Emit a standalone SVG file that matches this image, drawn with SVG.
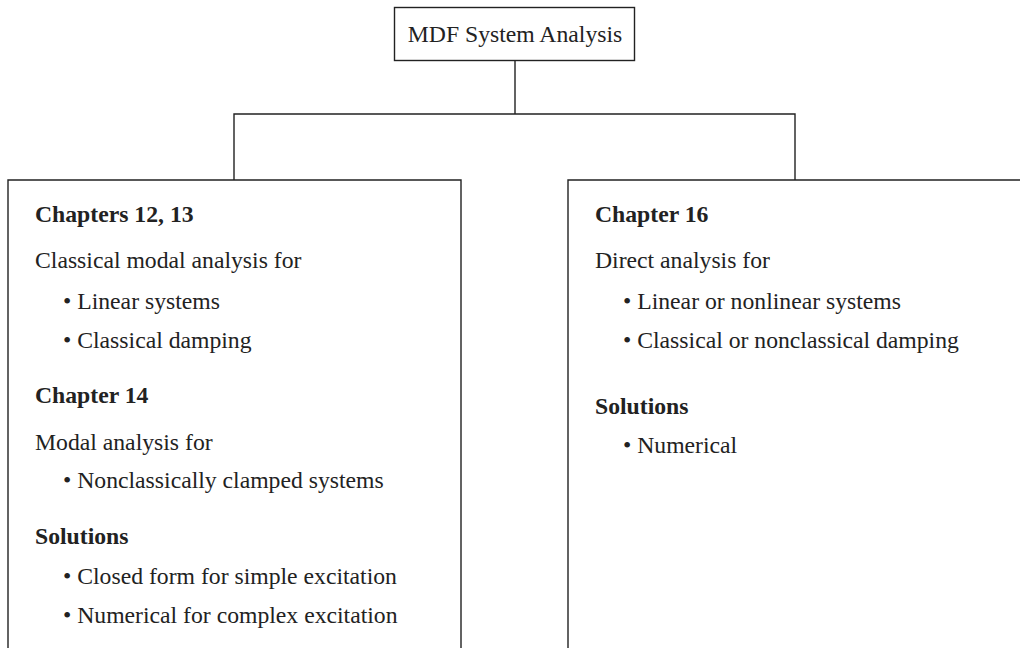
<svg xmlns="http://www.w3.org/2000/svg" width="1020" height="648" viewBox="0 0 1020 648">
<style>
.box{fill:none;stroke:#222;stroke-width:1.4}
.conn{fill:none;stroke:#222;stroke-width:1.4}
text{font-family:"Liberation Serif","Times New Roman",serif;font-size:23.7px;fill:#222}
.h{font-weight:bold}
</style>
<rect width="1020" height="648" fill="#fff"/>
<g id="connectors">
<path class="conn" d="M515 61 V114 M234 180 V114 H795 V180"/>
</g>
<g id="root">
<rect class="box" x="394.5" y="7.5" width="240" height="53"/>
<text x="515" y="42" text-anchor="middle">MDF System Analysis</text>
</g>
<g id="left">
<path class="box" d="M8 652 V180 H461 V652"/>
<text class="h" x="35" y="222">Chapters 12, 13</text>
<text x="35" y="268">Classical modal analysis for</text>
<text x="63" y="309">• Linear systems</text>
<text x="63" y="348">• Classical damping</text>
<text class="h" x="35" y="403">Chapter 14</text>
<text x="35" y="450">Modal analysis for</text>
<text x="63" y="488">• Nonclassically clamped systems</text>
<text class="h" x="35" y="544">Solutions</text>
<text x="63" y="584">• Closed form for simple excitation</text>
<text x="63" y="623">• Numerical for complex excitation</text>
</g>
<g id="right">
<path class="box" d="M1024 180 H568 V652"/>
<text class="h" x="595" y="222">Chapter 16</text>
<text x="595" y="268">Direct analysis for</text>
<text x="623" y="309">• Linear or nonlinear systems</text>
<text x="623" y="348">• Classical or nonclassical damping</text>
<text class="h" x="595" y="414">Solutions</text>
<text x="623" y="453">• Numerical</text>
</g>
</svg>
